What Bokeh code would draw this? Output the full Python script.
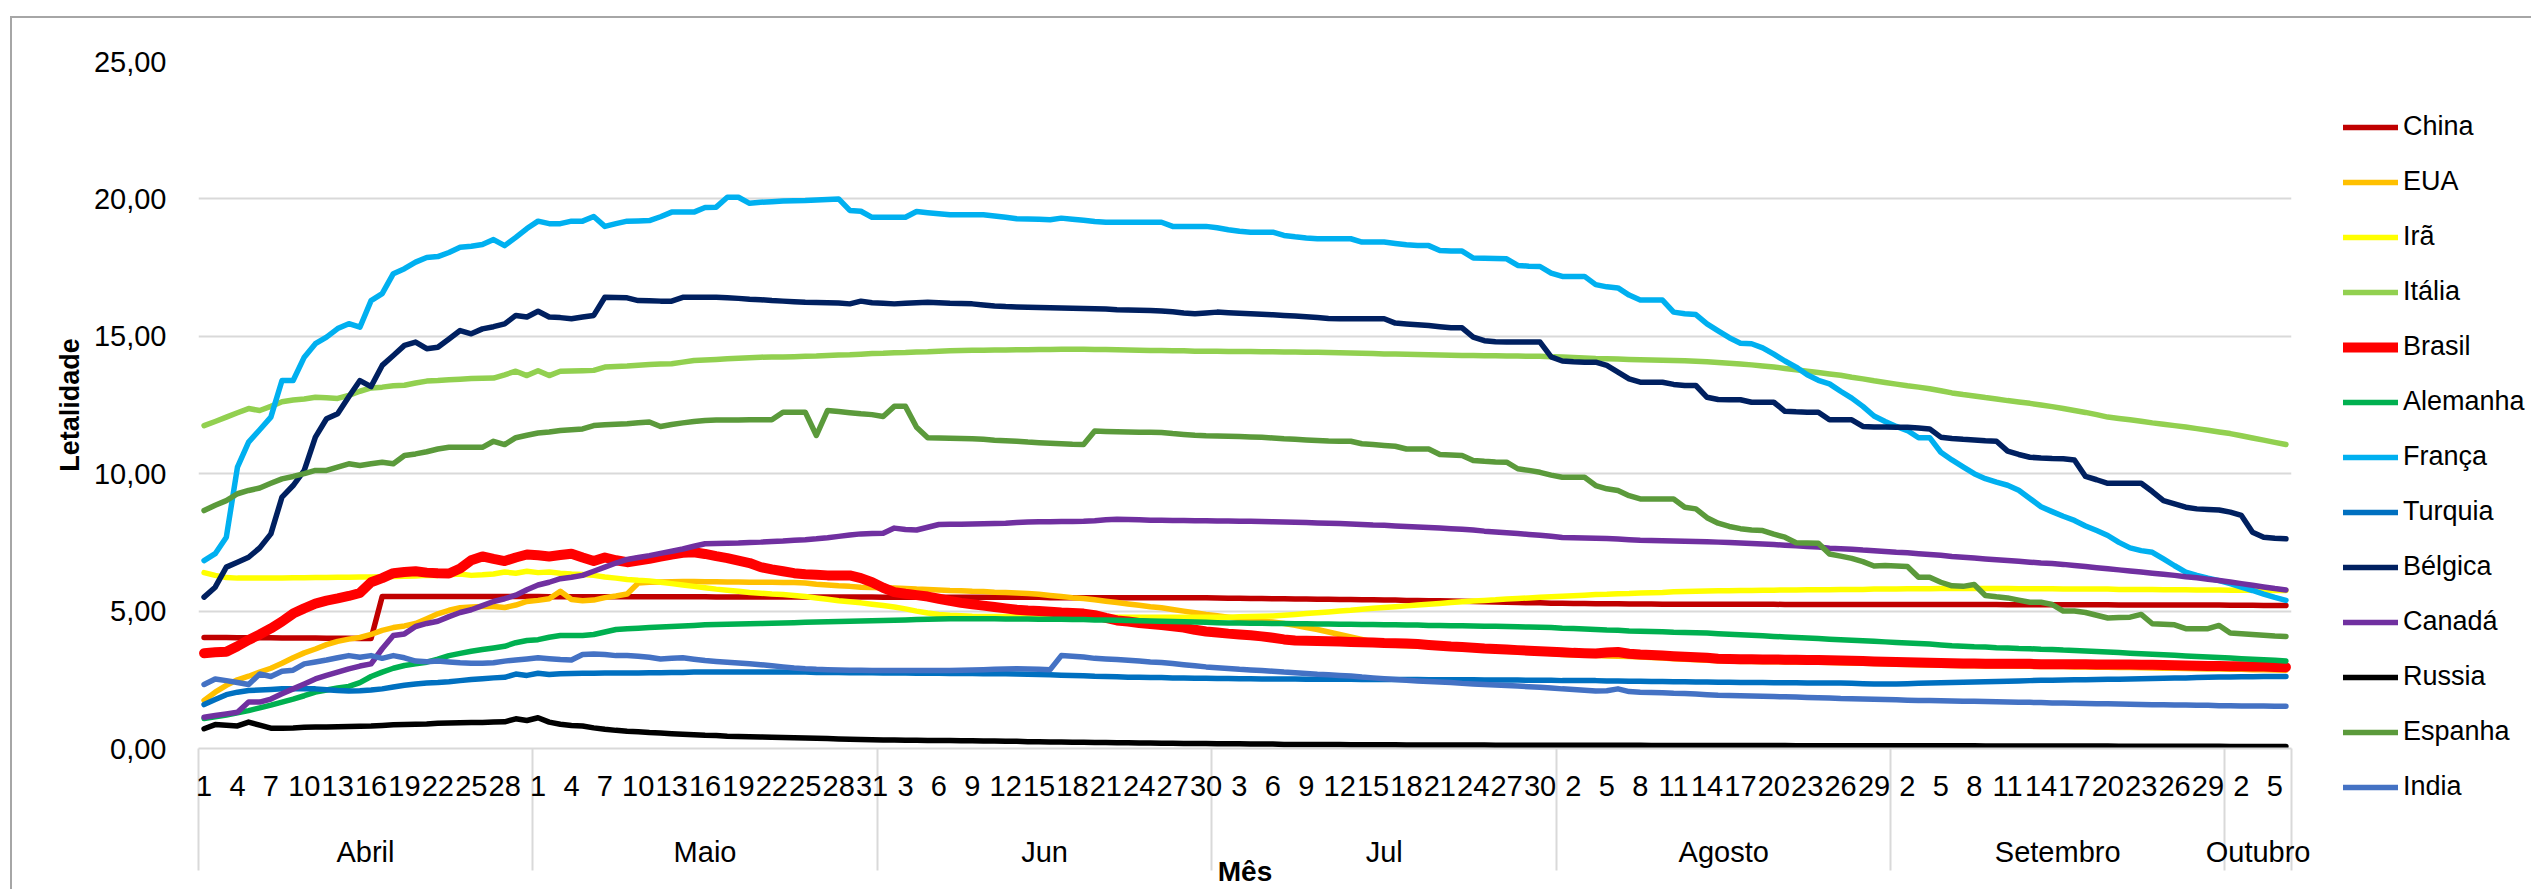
from bokeh.plotting import figure
from bokeh.layouts import row
from bokeh.models import Range1d, LinearAxis, FixedTicker, Legend, LegendItem
from bokeh.embed import file_html
from bokeh.resources import INLINE

# ---------------- categories ----------------
meses = ["Abril", "Maio", "Jun", "Jul", "Agosto", "Setembro", "Outubro"]
dias_no_mes = [30, 31, 30, 31, 30, 30, 6]

paises = ["China", "EUA", "Irã", "Itália", "Brasil", "Alemanha", "França",
          "Turquia", "Bélgica", "Canadá", "Russia", "Espanha", "India"]
cores = ["#C00000", "#FFC000", "#FFFF00", "#92D050", "#FF0000", "#00B050", "#00B0F0",
         "#0070C0", "#002060", "#7030A0", "#000000", "#5B9A3B", "#4472C4"]
espessuras = [5.5, 5.5, 5.5, 5.5, 10, 5.5, 5.5, 5.5, 5.5, 5.5, 5.5, 5.5, 5.5]

y_ticks = [0, 5, 10, 15, 20, 25]
y_rotulos = ["0,00", "5,00", "10,00", "15,00", "20,00", "25,00"]

# ---------------- series (Apr | May | Jun | Jul | Aug | Sep | Oct) ----------------
china = [
    4.04, 4.04, 4.04, 4.03, 4.03, 4.03, 4.03, 4.02, 4.02, 4.02, 4.02, 4.01, 4.01, 4.01, 4.00, 4.00,
    5.53, 5.53, 5.53, 5.53, 5.53, 5.53, 5.53, 5.53, 5.53, 5.53, 5.53, 5.53, 5.53, 5.53,
    5.53, 5.52, 5.52, 5.52, 5.52, 5.52, 5.52, 5.52, 5.52, 5.52, 5.52, 5.52, 5.52, 5.52, 5.52, 5.52,
    5.51, 5.51, 5.51, 5.51, 5.51, 5.51, 5.51, 5.51, 5.51, 5.51, 5.51, 5.51, 5.51, 5.51, 5.51,
    5.50, 5.50, 5.50, 5.50, 5.50, 5.50, 5.50, 5.50, 5.50, 5.50, 5.50, 5.50, 5.50, 5.50, 5.50,
    5.49, 5.49, 5.49, 5.49, 5.49, 5.49, 5.49, 5.49, 5.49, 5.49, 5.49, 5.49, 5.49, 5.49, 5.49,
    5.48, 5.47, 5.47, 5.46, 5.46, 5.45, 5.45, 5.44, 5.44, 5.43, 5.43, 5.42, 5.42, 5.41, 5.41,
    5.40, 5.40, 5.39, 5.39, 5.38, 5.38, 5.37, 5.36, 5.35, 5.34, 5.33, 5.32, 5.31, 5.30, 5.30, 5.29,
    5.29, 5.28, 5.28, 5.27, 5.27, 5.27, 5.26, 5.26, 5.26, 5.25, 5.25, 5.25, 5.25, 5.25, 5.25,
    5.25, 5.25, 5.25, 5.25, 5.25, 5.24, 5.24, 5.24, 5.24, 5.24, 5.24, 5.24, 5.24, 5.24, 5.24,
    5.24, 5.24, 5.24, 5.24, 5.24, 5.24, 5.24, 5.24, 5.24, 5.24, 5.23, 5.23, 5.23, 5.23, 5.23,
    5.23, 5.23, 5.23, 5.23, 5.23, 5.22, 5.22, 5.22, 5.22, 5.22, 5.22, 5.22, 5.22, 5.22, 5.22,
    5.21, 5.21, 5.21, 5.20, 5.20, 5.20]

eua = [
    1.75, 2.05, 2.30, 2.50, 2.63, 2.78, 2.92, 3.10, 3.30, 3.48, 3.62, 3.78, 3.90, 3.98, 4.04,
    4.15, 4.30, 4.40, 4.46, 4.55, 4.72, 4.90, 5.03, 5.12, 5.15, 5.17, 5.17, 5.13, 5.22, 5.35,
    5.39, 5.45, 5.72, 5.42, 5.38, 5.40, 5.49, 5.55, 5.62, 6.02, 6.05, 6.06, 6.07, 6.08, 6.08, 6.07,
    6.07, 6.06, 6.06, 6.05, 6.05, 6.05, 6.04, 6.04, 6.02, 5.98, 5.95, 5.92, 5.90, 5.87, 5.86,
    5.85, 5.84, 5.82, 5.80, 5.79, 5.77, 5.75, 5.74, 5.72, 5.71, 5.69, 5.68, 5.66, 5.64, 5.61,
    5.57, 5.53, 5.49, 5.46, 5.41, 5.36, 5.31, 5.26, 5.21, 5.16, 5.12, 5.06, 5.00, 4.94, 4.88,
    4.83, 4.78, 4.73, 4.69, 4.64, 4.60, 4.55, 4.48, 4.40, 4.33, 4.24, 4.15, 4.06, 3.97, 3.88, 3.80,
    3.76, 3.74, 3.73, 3.72, 3.69, 3.66, 3.63, 3.61, 3.59, 3.56, 3.54, 3.52, 3.50, 3.48, 3.46,
    3.42, 3.40, 3.39, 3.38, 3.37, 3.36, 3.35, 3.33, 3.31, 3.29, 3.27, 3.25, 3.23, 3.21, 3.19,
    3.18, 3.17, 3.17, 3.16, 3.16, 3.15, 3.15, 3.14, 3.14, 3.13, 3.12, 3.11, 3.10, 3.09, 3.08,
    3.07, 3.06, 3.05, 3.04, 3.03, 3.02, 3.01, 3.01, 3.00, 3.00, 3.00, 2.99, 2.99, 2.98, 2.98,
    2.98, 2.97, 2.97, 2.96, 2.96, 2.95, 2.95, 2.94, 2.93, 2.92, 2.92, 2.91, 2.90, 2.89, 2.89,
    2.88, 2.88, 2.87, 2.87, 2.86, 2.85]

ira = [
    6.40, 6.30, 6.22, 6.20, 6.20, 6.20, 6.20, 6.20, 6.21, 6.21, 6.22, 6.22, 6.23, 6.23, 6.24,
    6.24, 6.25, 6.26, 6.27, 6.28, 6.30, 6.30, 6.32, 6.35, 6.30, 6.32, 6.35, 6.42, 6.38, 6.45,
    6.40, 6.42, 6.38, 6.35, 6.33, 6.30, 6.24, 6.20, 6.15, 6.12, 6.10, 6.05, 6.00, 5.95, 5.90, 5.85,
    5.80, 5.76, 5.72, 5.68, 5.65, 5.62, 5.60, 5.57, 5.53, 5.48, 5.43, 5.38, 5.34, 5.30, 5.25,
    5.20, 5.15, 5.08, 5.00, 4.93, 4.88, 4.85, 4.83, 4.81, 4.80, 4.80, 4.80, 4.79, 4.79, 4.79,
    4.79, 4.78, 4.78, 4.78, 4.78, 4.78, 4.78, 4.78, 4.78, 4.78, 4.78, 4.78, 4.78, 4.78, 4.78,
    4.78, 4.78, 4.79, 4.80, 4.81, 4.82, 4.85, 4.88, 4.91, 4.94, 4.97, 5.00, 5.03, 5.07, 5.10, 5.13,
    5.16, 5.19, 5.22, 5.25, 5.28, 5.31, 5.34, 5.37, 5.39, 5.41, 5.44, 5.46, 5.48, 5.50, 5.52,
    5.54, 5.56, 5.58, 5.60, 5.61, 5.63, 5.64, 5.66, 5.67, 5.68, 5.70, 5.71, 5.72, 5.73, 5.74,
    5.74, 5.75, 5.75, 5.76, 5.76, 5.77, 5.77, 5.78, 5.78, 5.78, 5.79, 5.79, 5.79, 5.80, 5.80,
    5.80, 5.81, 5.81, 5.81, 5.82, 5.82, 5.82, 5.82, 5.82, 5.82, 5.82, 5.81, 5.81, 5.81, 5.81,
    5.80, 5.80, 5.80, 5.80, 5.80, 5.79, 5.79, 5.79, 5.79, 5.78, 5.78, 5.78, 5.77, 5.77, 5.77,
    5.76, 5.76, 5.76, 5.75, 5.75, 5.75]

italia = [
    11.75, 11.90, 12.06, 12.22, 12.37, 12.30, 12.45, 12.62, 12.68, 12.72, 12.78, 12.76, 12.74, 12.85, 13.00,
    13.12, 13.15, 13.20, 13.22, 13.30, 13.37, 13.39, 13.42, 13.44, 13.46, 13.47, 13.48, 13.60, 13.73, 13.57,
    13.75, 13.57, 13.73, 13.74, 13.75, 13.76, 13.88, 13.90, 13.92, 13.95, 13.97, 13.99, 14.00, 14.06, 14.12, 14.14,
    14.16, 14.18, 14.20, 14.22, 14.24, 14.25, 14.25, 14.26, 14.27, 14.28, 14.30, 14.32, 14.33, 14.35, 14.37,
    14.38, 14.40, 14.41, 14.43, 14.44, 14.46, 14.47, 14.48, 14.49, 14.49, 14.50, 14.50, 14.51, 14.51, 14.52,
    14.52, 14.53, 14.53, 14.53, 14.52, 14.52, 14.51, 14.50, 14.49, 14.48, 14.48, 14.47, 14.47, 14.46, 14.46,
    14.46, 14.45, 14.45, 14.45, 14.44, 14.44, 14.43, 14.43, 14.42, 14.42, 14.41, 14.40, 14.39, 14.38, 14.37, 14.36,
    14.36, 14.35, 14.34, 14.33, 14.32, 14.31, 14.30, 14.30, 14.29, 14.29, 14.28, 14.28, 14.27, 14.27, 14.26,
    14.25, 14.23, 14.21, 14.19, 14.18, 14.17, 14.16, 14.15, 14.14, 14.13, 14.12, 14.11, 14.09, 14.07, 14.05,
    14.02, 13.99, 13.96, 13.92, 13.88, 13.83, 13.78, 13.73, 13.68, 13.63, 13.58, 13.51, 13.45, 13.38, 13.32,
    13.26, 13.20, 13.15, 13.09, 13.02, 12.94, 12.88, 12.83, 12.77, 12.72, 12.66, 12.61, 12.56, 12.50, 12.44,
    12.37, 12.30, 12.23, 12.15, 12.06, 12.01, 11.96, 11.91, 11.85, 11.80, 11.75, 11.70, 11.64, 11.58, 11.52,
    11.46, 11.38, 11.30, 11.22, 11.14, 11.06]

brasil = [
    3.47, 3.50, 3.52, 3.72, 3.95, 4.15, 4.37, 4.62, 4.91, 5.10, 5.27, 5.38, 5.46, 5.55, 5.66,
    6.05, 6.20, 6.38, 6.42, 6.45, 6.40, 6.38, 6.37, 6.55, 6.85, 6.99, 6.90, 6.82, 6.95, 7.06,
    7.03, 6.99, 7.04, 7.09, 6.95, 6.82, 6.95, 6.85, 6.78, 6.84, 6.90, 6.98, 7.06, 7.12, 7.14, 7.08,
    7.00, 6.93, 6.84, 6.75, 6.60, 6.52, 6.45, 6.38, 6.34, 6.32, 6.30, 6.30, 6.30, 6.20, 6.05,
    5.85, 5.69, 5.63, 5.58, 5.53, 5.45, 5.37, 5.30, 5.25, 5.20, 5.15, 5.10, 5.05, 5.02, 5.00,
    4.98, 4.95, 4.93, 4.91, 4.85, 4.75, 4.66, 4.62, 4.57, 4.53, 4.49, 4.45, 4.40, 4.32, 4.26,
    4.22, 4.18, 4.15, 4.12, 4.08, 4.03, 3.97, 3.93, 3.92, 3.91, 3.90, 3.89, 3.88, 3.87, 3.86, 3.84,
    3.83, 3.82, 3.80, 3.77, 3.74, 3.71, 3.69, 3.67, 3.64, 3.62, 3.60, 3.58, 3.56, 3.54, 3.52,
    3.50, 3.48, 3.47, 3.46, 3.49, 3.51, 3.45, 3.42, 3.40, 3.38, 3.36, 3.34, 3.32, 3.30, 3.27,
    3.26, 3.25, 3.25, 3.24, 3.24, 3.23, 3.23, 3.22, 3.22, 3.21, 3.20, 3.19, 3.18, 3.17, 3.16,
    3.15, 3.14, 3.13, 3.12, 3.11, 3.10, 3.09, 3.09, 3.08, 3.08, 3.08, 3.08, 3.08, 3.07, 3.07,
    3.07, 3.07, 3.07, 3.06, 3.06, 3.06, 3.06, 3.05, 3.05, 3.04, 3.03, 3.02, 3.01, 3.00, 3.00,
    2.99, 2.99, 2.98, 2.98, 2.97, 2.96]

alemanha = [
    1.09, 1.15, 1.22, 1.30, 1.38, 1.48, 1.58, 1.69, 1.80, 1.92, 2.05, 2.13, 2.20, 2.26, 2.40,
    2.62, 2.78, 2.92, 3.02, 3.08, 3.14, 3.25, 3.38, 3.46, 3.54, 3.60, 3.66, 3.72, 3.85, 3.93,
    3.96, 4.05, 4.11, 4.11, 4.11, 4.15, 4.24, 4.33, 4.36, 4.38, 4.40, 4.42, 4.44, 4.46, 4.48, 4.50,
    4.51, 4.52, 4.53, 4.54, 4.55, 4.56, 4.57, 4.58, 4.59, 4.60, 4.61, 4.62, 4.63, 4.64, 4.65,
    4.66, 4.67, 4.68, 4.69, 4.70, 4.71, 4.72, 4.72, 4.72, 4.72, 4.72, 4.71, 4.71, 4.71, 4.70,
    4.70, 4.70, 4.69, 4.69, 4.68, 4.68, 4.67, 4.66, 4.65, 4.64, 4.63, 4.62, 4.61, 4.60, 4.59,
    4.58, 4.57, 4.57, 4.56, 4.56, 4.55, 4.55, 4.54, 4.54, 4.53, 4.53, 4.52, 4.52, 4.51, 4.51, 4.50,
    4.50, 4.49, 4.49, 4.48, 4.48, 4.47, 4.47, 4.46, 4.45, 4.45, 4.44, 4.43, 4.42, 4.41, 4.40,
    4.38, 4.37, 4.35, 4.33, 4.31, 4.30, 4.28, 4.27, 4.26, 4.25, 4.23, 4.22, 4.21, 4.20, 4.18,
    4.16, 4.14, 4.12, 4.10, 4.08, 4.06, 4.04, 4.02, 4.00, 3.98, 3.96, 3.94, 3.92, 3.90, 3.88,
    3.86, 3.84, 3.82, 3.80, 3.77, 3.74, 3.72, 3.70, 3.69, 3.67, 3.66, 3.64, 3.63, 3.61, 3.60,
    3.58, 3.57, 3.55, 3.53, 3.51, 3.49, 3.47, 3.45, 3.43, 3.41, 3.39, 3.37, 3.35, 3.33, 3.31,
    3.29, 3.27, 3.25, 3.23, 3.21, 3.18]

franca = [
    6.84, 7.09, 7.69, 10.24, 11.15, 11.60, 12.06, 13.39, 13.39, 14.24, 14.73, 14.97, 15.28, 15.46, 15.33,
    16.30, 16.55, 17.28, 17.46, 17.70, 17.87, 17.90, 18.05, 18.24, 18.28, 18.34, 18.52, 18.30, 18.60, 18.92,
    19.19, 19.10, 19.10, 19.19, 19.19, 19.36, 19.00, 19.10, 19.19, 19.20, 19.21, 19.35, 19.52, 19.52, 19.52, 19.69,
    19.70, 20.06, 20.06, 19.84, 19.88, 19.90, 19.92, 19.93, 19.94, 19.96, 19.98, 20.00, 19.58, 19.55, 19.33,
    19.33, 19.33, 19.33, 19.54, 19.50, 19.46, 19.42, 19.42, 19.42, 19.42, 19.38, 19.33, 19.28, 19.27, 19.26,
    19.24, 19.30, 19.26, 19.22, 19.18, 19.15, 19.15, 19.15, 19.15, 19.15, 19.15, 19.00, 19.00, 19.00, 19.00,
    18.95, 18.88, 18.82, 18.79, 18.79, 18.79, 18.67, 18.62, 18.58, 18.55, 18.55, 18.55, 18.55, 18.43, 18.43, 18.43,
    18.38, 18.33, 18.30, 18.30, 18.12, 18.10, 18.10, 17.85, 17.84, 17.83, 17.82, 17.58, 17.55, 17.54, 17.30,
    17.18, 17.18, 17.18, 16.88, 16.80, 16.76, 16.50, 16.32, 16.32, 16.32, 15.88, 15.82, 15.79, 15.45, 15.20,
    14.95, 14.75, 14.73, 14.58, 14.35, 14.10, 13.88, 13.60, 13.40, 13.27, 13.00, 12.75, 12.45, 12.10, 11.90,
    11.72, 11.57, 11.31, 11.31, 10.78, 10.50, 10.25, 10.00, 9.82, 9.69, 9.58, 9.40, 9.10, 8.80, 8.62,
    8.45, 8.30, 8.10, 7.93, 7.75, 7.50, 7.30, 7.20, 7.14, 6.90, 6.65, 6.42, 6.30, 6.20, 6.11,
    6.00, 5.87, 5.75, 5.62, 5.50, 5.39]

turquia = [
    1.60, 1.78, 1.96, 2.05, 2.11, 2.13, 2.15, 2.17, 2.17, 2.17, 2.17, 2.14, 2.11, 2.09, 2.10,
    2.13, 2.17, 2.24, 2.30, 2.35, 2.38, 2.40, 2.43, 2.47, 2.51, 2.54, 2.57, 2.59, 2.71, 2.66,
    2.74, 2.69, 2.72, 2.73, 2.74, 2.74, 2.75, 2.75, 2.75, 2.75, 2.76, 2.76, 2.77, 2.77, 2.78, 2.78,
    2.78, 2.78, 2.78, 2.78, 2.78, 2.78, 2.78, 2.78, 2.78, 2.77, 2.77, 2.77, 2.76, 2.76, 2.76,
    2.75, 2.75, 2.75, 2.74, 2.74, 2.74, 2.73, 2.73, 2.73, 2.72, 2.72, 2.72, 2.71, 2.70, 2.69,
    2.68, 2.67, 2.66, 2.65, 2.63, 2.62, 2.61, 2.59, 2.59, 2.58, 2.58, 2.57, 2.57, 2.56, 2.56,
    2.55, 2.55, 2.54, 2.54, 2.53, 2.53, 2.53, 2.53, 2.52, 2.52, 2.52, 2.52, 2.52, 2.51, 2.51, 2.51,
    2.51, 2.51, 2.51, 2.50, 2.50, 2.50, 2.50, 2.50, 2.49, 2.49, 2.49, 2.49, 2.48, 2.48, 2.48,
    2.47, 2.47, 2.47, 2.47, 2.46, 2.46, 2.45, 2.45, 2.44, 2.44, 2.43, 2.43, 2.42, 2.42, 2.41,
    2.41, 2.40, 2.40, 2.40, 2.39, 2.39, 2.39, 2.38, 2.38, 2.38, 2.38, 2.37, 2.36, 2.35, 2.35,
    2.35, 2.36, 2.37, 2.38, 2.39, 2.40, 2.41, 2.42, 2.43, 2.44, 2.45, 2.46, 2.47, 2.48, 2.48,
    2.49, 2.50, 2.50, 2.51, 2.52, 2.52, 2.53, 2.54, 2.55, 2.56, 2.57, 2.57, 2.58, 2.59, 2.60,
    2.60, 2.61, 2.61, 2.62, 2.62, 2.62]

belgica = [
    5.51, 5.87, 6.60, 6.78, 6.96, 7.30, 7.81, 9.15, 9.57, 10.12, 11.33, 12.00, 12.18, 12.80, 13.39,
    13.17, 13.94, 14.30, 14.67, 14.79, 14.55, 14.60, 14.90, 15.21, 15.09, 15.27, 15.35, 15.45, 15.76, 15.70,
    15.91, 15.70, 15.68, 15.64, 15.70, 15.76, 16.42, 16.41, 16.40, 16.30, 16.29, 16.28, 16.28, 16.42, 16.42, 16.42,
    16.42, 16.40, 16.38, 16.35, 16.33, 16.30, 16.28, 16.26, 16.24, 16.23, 16.22, 16.21, 16.18, 16.28, 16.22,
    16.20, 16.18, 16.20, 16.22, 16.24, 16.22, 16.20, 16.19, 16.18, 16.14, 16.10, 16.08, 16.07, 16.06, 16.05,
    16.04, 16.03, 16.02, 16.01, 16.00, 15.99, 15.97, 15.96, 15.95, 15.94, 15.92, 15.89, 15.85, 15.82, 15.85,
    15.88, 15.86, 15.84, 15.82, 15.80, 15.78, 15.76, 15.74, 15.71, 15.68, 15.65, 15.64, 15.64, 15.64, 15.64, 15.64,
    15.48, 15.45, 15.42, 15.39, 15.35, 15.31, 15.31, 14.97, 14.84, 14.80, 14.79, 14.79, 14.79, 14.79, 14.25,
    14.10, 14.07, 14.06, 14.06, 13.94, 13.70, 13.45, 13.33, 13.33, 13.33, 13.25, 13.21, 13.21, 12.78, 12.70,
    12.69, 12.69, 12.60, 12.60, 12.60, 12.27, 12.25, 12.24, 12.24, 11.96, 11.96, 11.96, 11.72, 11.70, 11.70,
    11.69, 11.69, 11.66, 11.63, 11.33, 11.28, 11.25, 11.23, 11.20, 11.18, 10.82, 10.70, 10.60, 10.57, 10.55,
    10.54, 10.50, 9.90, 9.78, 9.65, 9.65, 9.65, 9.65, 9.35, 9.02, 8.90, 8.78, 8.72, 8.70, 8.68,
    8.60, 8.48, 7.87, 7.69, 7.65, 7.63]

canada = [
    1.14, 1.20, 1.26, 1.32, 1.69, 1.69, 1.80, 1.99, 2.17, 2.35, 2.53, 2.66, 2.78, 2.90, 3.00,
    3.08, 3.63, 4.11, 4.17, 4.44, 4.55, 4.63, 4.80, 4.95, 5.05, 5.20, 5.35, 5.45, 5.58, 5.78,
    5.95, 6.05, 6.18, 6.23, 6.30, 6.45, 6.60, 6.75, 6.88, 6.95, 7.02, 7.10, 7.18, 7.26, 7.36, 7.45,
    7.46, 7.47, 7.48, 7.50, 7.51, 7.53, 7.55, 7.58, 7.60, 7.63, 7.67, 7.72, 7.77, 7.81, 7.82,
    7.83, 8.02, 7.97, 7.95, 8.05, 8.15, 8.16, 8.16, 8.17, 8.18, 8.19, 8.20, 8.22, 8.24, 8.25,
    8.25, 8.26, 8.26, 8.27, 8.29, 8.32, 8.34, 8.33, 8.32, 8.31, 8.31, 8.30, 8.30, 8.29, 8.29,
    8.28, 8.28, 8.27, 8.27, 8.26, 8.25, 8.24, 8.23, 8.22, 8.21, 8.20, 8.19, 8.17, 8.15, 8.13, 8.12,
    8.10, 8.08, 8.06, 8.04, 8.02, 8.00, 7.98, 7.95, 7.91, 7.88, 7.85, 7.82, 7.79, 7.76, 7.72,
    7.68, 7.67, 7.66, 7.65, 7.64, 7.62, 7.60, 7.58, 7.57, 7.56, 7.55, 7.54, 7.53, 7.52, 7.51,
    7.50, 7.48, 7.46, 7.44, 7.42, 7.40, 7.38, 7.35, 7.33, 7.29, 7.27, 7.25, 7.22, 7.20, 7.17,
    7.14, 7.12, 7.09, 7.06, 7.03, 6.99, 6.96, 6.93, 6.90, 6.87, 6.84, 6.81, 6.78, 6.75, 6.73,
    6.70, 6.66, 6.62, 6.58, 6.54, 6.50, 6.46, 6.42, 6.38, 6.34, 6.30, 6.25, 6.21, 6.16, 6.11,
    6.06, 6.00, 5.94, 5.88, 5.82, 5.77]

russia = [
    0.72, 0.87, 0.85, 0.82, 0.96, 0.85, 0.74, 0.74, 0.75, 0.77, 0.78, 0.78, 0.79, 0.80, 0.81,
    0.82, 0.84, 0.86, 0.87, 0.88, 0.89, 0.92, 0.93, 0.94, 0.95, 0.95, 0.96, 0.97, 1.08, 1.02,
    1.12, 0.96, 0.88, 0.84, 0.82, 0.75, 0.70, 0.66, 0.63, 0.61, 0.58, 0.56, 0.54, 0.52, 0.50, 0.48,
    0.47, 0.45, 0.44, 0.43, 0.42, 0.41, 0.40, 0.39, 0.38, 0.37, 0.36, 0.35, 0.34, 0.33, 0.32,
    0.31, 0.31, 0.30, 0.30, 0.29, 0.29, 0.29, 0.28, 0.28, 0.27, 0.27, 0.26, 0.26, 0.25, 0.25,
    0.24, 0.24, 0.23, 0.23, 0.22, 0.22, 0.21, 0.21, 0.20, 0.20, 0.19, 0.19, 0.18, 0.18, 0.18,
    0.17, 0.17, 0.17, 0.16, 0.16, 0.16, 0.15, 0.15, 0.15, 0.15, 0.15, 0.15, 0.14, 0.14, 0.14, 0.14,
    0.14, 0.13, 0.13, 0.13, 0.13, 0.13, 0.13, 0.13, 0.13, 0.12, 0.12, 0.12, 0.12, 0.12, 0.12,
    0.12, 0.12, 0.12, 0.12, 0.12, 0.12, 0.12, 0.12, 0.11, 0.11, 0.11, 0.11, 0.11, 0.11, 0.11,
    0.11, 0.11, 0.11, 0.11, 0.11, 0.11, 0.10, 0.10, 0.10, 0.10, 0.10, 0.10, 0.10, 0.10, 0.10,
    0.10, 0.10, 0.10, 0.10, 0.10, 0.10, 0.10, 0.10, 0.09, 0.09, 0.09, 0.09, 0.09, 0.09, 0.09,
    0.09, 0.09, 0.09, 0.09, 0.09, 0.08, 0.08, 0.08, 0.08, 0.08, 0.08, 0.08, 0.08, 0.08, 0.08,
    0.07, 0.07, 0.07, 0.07, 0.07, 0.07]

espanha = [
    8.66, 8.85, 9.02, 9.27, 9.39, 9.48, 9.65, 9.81, 9.90, 10.00, 10.12, 10.12, 10.24, 10.36, 10.30,
    10.36, 10.42, 10.36, 10.66, 10.72, 10.80, 10.90, 10.96, 10.96, 10.96, 10.96, 11.18, 11.06, 11.31, 11.40,
    11.48, 11.52, 11.57, 11.60, 11.63, 11.75, 11.78, 11.80, 11.82, 11.85, 11.88, 11.72, 11.79, 11.85, 11.90, 11.94,
    11.95, 11.95, 11.95, 11.96, 11.96, 11.96, 12.24, 12.24, 12.24, 11.39, 12.30, 12.26, 12.22, 12.18, 12.15,
    12.08, 12.45, 12.45, 11.69, 11.31, 11.30, 11.29, 11.28, 11.27, 11.25, 11.22, 11.20, 11.18, 11.15, 11.13,
    11.11, 11.09, 11.07, 11.06, 11.55, 11.54, 11.53, 11.52, 11.51, 11.51, 11.50, 11.46, 11.43, 11.40, 11.38,
    11.37, 11.36, 11.35, 11.34, 11.33, 11.30, 11.27, 11.25, 11.23, 11.21, 11.19, 11.18, 11.18, 11.09, 11.06, 11.03,
    11.00, 10.90, 10.90, 10.90, 10.70, 10.68, 10.66, 10.48, 10.45, 10.43, 10.42, 10.18, 10.12, 10.05, 9.95,
    9.87, 9.87, 9.87, 9.57, 9.45, 9.39, 9.20, 9.08, 9.08, 9.08, 9.08, 8.78, 8.72, 8.40, 8.20,
    8.08, 8.00, 7.95, 7.93, 7.80, 7.69, 7.49, 7.48, 7.47, 7.08, 7.00, 6.92, 6.80, 6.64, 6.66,
    6.64, 6.62, 6.23, 6.23, 6.05, 5.92, 5.90, 5.97, 5.57, 5.52, 5.48, 5.40, 5.32, 5.32, 5.24,
    5.00, 5.00, 4.95, 4.85, 4.75, 4.77, 4.78, 4.88, 4.54, 4.52, 4.50, 4.36, 4.36, 4.36, 4.48,
    4.20, 4.18, 4.15, 4.12, 4.09, 4.08]

india = [
    2.33, 2.53, 2.47, 2.40, 2.33, 2.71, 2.62, 2.81, 2.85, 3.08, 3.15, 3.22, 3.30, 3.38, 3.32,
    3.38, 3.28, 3.38, 3.30, 3.18, 3.16, 3.18, 3.15, 3.12, 3.10, 3.10, 3.12, 3.18, 3.22, 3.26,
    3.30, 3.27, 3.24, 3.22, 3.42, 3.44, 3.42, 3.38, 3.38, 3.36, 3.32, 3.26, 3.28, 3.30, 3.25, 3.20,
    3.17, 3.14, 3.11, 3.08, 3.05, 3.01, 2.97, 2.93, 2.90, 2.88, 2.87, 2.86, 2.85, 2.85, 2.84,
    2.84, 2.84, 2.84, 2.84, 2.84, 2.84, 2.84, 2.85, 2.86, 2.87, 2.88, 2.89, 2.90, 2.89, 2.88,
    2.87, 3.38, 3.36, 3.33, 3.28, 3.26, 3.24, 3.21, 3.18, 3.15, 3.13, 3.09, 3.05, 3.01, 2.97,
    2.94, 2.91, 2.88, 2.86, 2.84, 2.81, 2.78, 2.76, 2.73, 2.70, 2.68, 2.66, 2.64, 2.60, 2.57, 2.54,
    2.51, 2.48, 2.46, 2.44, 2.42, 2.40, 2.37, 2.35, 2.33, 2.31, 2.29, 2.27, 2.25, 2.23, 2.20,
    2.17, 2.15, 2.12, 2.09, 2.10, 2.17, 2.07, 2.05, 2.04, 2.03, 2.01, 2.00, 1.98, 1.96, 1.94,
    1.93, 1.92, 1.91, 1.90, 1.89, 1.88, 1.87, 1.86, 1.85, 1.84, 1.82, 1.81, 1.80, 1.79, 1.78,
    1.77, 1.76, 1.75, 1.75, 1.74, 1.73, 1.72, 1.72, 1.71, 1.70, 1.69, 1.68, 1.68, 1.67, 1.66,
    1.66, 1.65, 1.64, 1.63, 1.63, 1.62, 1.61, 1.60, 1.59, 1.59, 1.58, 1.58, 1.57, 1.57, 1.56,
    1.56, 1.55, 1.55, 1.55, 1.54, 1.54]

series = [china, eua, ira, italia, brasil, alemanha, franca,
          turquia, belgica, canada, russia, espanha, india]

# ---------------- derived category positions ----------------
dias = []
for n in dias_no_mes:
    dias += list(range(1, n + 1))
N = len(dias)
x = list(range(N))
for nome, s in zip(paises, series):
    assert len(s) == N, (nome, len(s))

pos_dias = list(range(0, N, 3))
rotulos_dias = {i: str(dias[i]) for i in pos_dias}

limites = []
centros = []
ini = 0
for n in dias_no_mes:
    limites.append(ini - 0.5)
    centros.append(ini + (n - 1) / 2)
    ini += n
limites.append(ini - 0.5)
rotulos_meses = {c: m for c, m in zip(centros, meses)}

FONT = "Liberation Sans"
GRID = "#d9d9d9"
TICK_FS = "29px"
H = 871

# ---------------- main chart ----------------
p = figure(width=2319, height=H, output_backend="svg", toolbar_location=None,
           x_range=Range1d(-0.5, N - 0.5), y_range=Range1d(0, 25),
           x_axis_type=None, min_border_left=186, min_border_right=40,
           min_border_top=43, min_border_bottom=141)
p.outline_line_color = None
p.background_fill_color = "white"
p.border_fill_color = "white"

yt = FixedTicker(ticks=y_ticks)
p.yaxis.ticker = yt
p.ygrid.ticker = yt
p.yaxis.major_label_overrides = {t: l for t, l in zip(y_ticks, y_rotulos)}
p.yaxis.axis_line_color = None
p.yaxis.major_tick_line_color = None
p.yaxis.minor_tick_line_color = None
p.yaxis.major_tick_out = 0
p.yaxis.major_tick_in = 0
p.yaxis.minor_tick_out = 0
p.yaxis.major_label_standoff = 32
p.yaxis.major_label_text_font = FONT
p.yaxis.major_label_text_font_size = TICK_FS
p.yaxis.major_label_text_color = "#000000"
p.yaxis.axis_label = "Letalidade"
p.yaxis.axis_label_text_font = FONT
p.yaxis.axis_label_text_font_size = "27px"
p.yaxis.axis_label_text_font_style = "bold"
p.yaxis.axis_label_text_color = "#000000"
p.yaxis.axis_label_standoff = 6
p.ygrid.grid_line_color = GRID
p.ygrid.grid_line_width = 2

# day numbers + month separators (minor ticks)
ax_dias = LinearAxis(ticker=FixedTicker(ticks=pos_dias, minor_ticks=limites),
                     major_label_overrides=rotulos_dias)
ax_dias.major_tick_out = 0
ax_dias.major_tick_in = 0
ax_dias.major_tick_line_color = None
ax_dias.minor_tick_out = 122
ax_dias.minor_tick_in = 0
ax_dias.minor_tick_line_color = GRID
ax_dias.minor_tick_line_width = 2
ax_dias.axis_line_color = GRID
ax_dias.axis_line_width = 2
ax_dias.major_label_standoff = -95
ax_dias.major_label_text_font = FONT
ax_dias.major_label_text_font_size = TICK_FS
ax_dias.major_label_text_color = "#000000"
p.add_layout(ax_dias, "below")

# month names + axis title
ax_meses = LinearAxis(ticker=FixedTicker(ticks=centros), major_label_overrides=rotulos_meses)
ax_meses.axis_line_color = None
ax_meses.major_tick_line_color = None
ax_meses.minor_tick_line_color = None
ax_meses.major_tick_out = 0
ax_meses.major_tick_in = 0
ax_meses.minor_tick_out = 0
ax_meses.major_label_standoff = 37
ax_meses.major_label_text_font = FONT
ax_meses.major_label_text_font_size = TICK_FS
ax_meses.major_label_text_color = "#000000"
ax_meses.axis_label = "Mês"
ax_meses.axis_label_text_font = FONT
ax_meses.axis_label_text_font_size = "28px"
ax_meses.axis_label_text_font_style = "bold"
ax_meses.axis_label_text_color = "#000000"
ax_meses.axis_label_standoff = -15
p.add_layout(ax_meses, "below")

for s, cor, w in zip(series, cores, espessuras):
    p.line(x, s, line_color=cor, line_width=w, line_join="round", line_cap="round")

# ---------------- legend panel ----------------
pl = figure(width=200, height=H, output_backend="svg", toolbar_location=None,
            x_range=Range1d(0, 1), y_range=Range1d(0, 1),
            x_axis_type=None, y_axis_type=None,
            min_border_left=0, min_border_right=0, min_border_top=0, min_border_bottom=0)
pl.outline_line_color = None
pl.grid.visible = False
pl.background_fill_color = "white"
pl.border_fill_color = "white"
try:
    pl.frame_align = False
    p.frame_align = False
except Exception:
    pass

# legend swatches: one segment per country, placed outside the visible range
itens = []
for nome, cor, w in zip(paises, cores, espessuras):
    r = pl.line([5, 6], [5, 5], line_color=cor, line_width=w, line_cap="round")
    itens.append(LegendItem(label=nome, renderers=[r]))

legend = Legend(items=itens, location=(12, 87), orientation="vertical",
                glyph_width=55, glyph_height=30, label_height=30, spacing=24,
                padding=0, margin=0, label_standoff=5,
                label_text_font=FONT, label_text_font_size="27px",
                label_text_color="#000000",
                background_fill_alpha=0, border_line_color=None)
pl.add_layout(legend)

layout = row(p, pl, spacing=0,
             styles={"margin-left": "10px", "margin-top": "16px",
                     "border-left": "2px solid #a6a6a6", "border-top": "2px solid #a6a6a6"})

open("out.html", "w").write(file_html(layout, INLINE))
